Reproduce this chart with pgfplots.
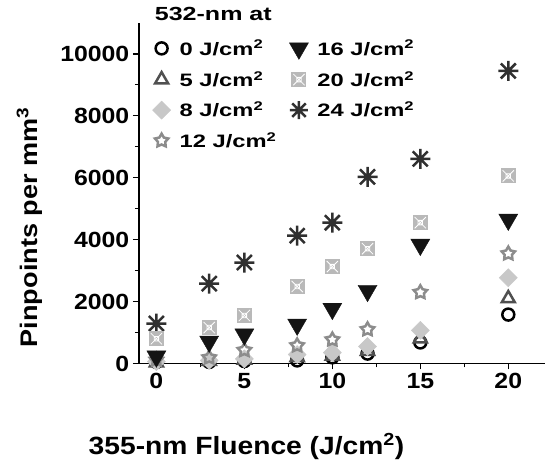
\documentclass[border=0pt]{standalone}
\usepackage{fontspec}
\setmainfont{Liberation Sans}[FakeStretch=1.13]
\newfontfamily\legfont{Liberation Sans}[FakeStretch=1.32]
\usepackage{pgfplots}
\pgfplotsset{compat=1.18}

% 8-armed asterisk
\pgfdeclareplotmark{ast8}{%
  \pgfpathmoveto{\pgfqpoint{-\pgfplotmarksize}{0pt}}\pgfpathlineto{\pgfqpoint{\pgfplotmarksize}{0pt}}%
  \pgfpathmoveto{\pgfqpoint{0pt}{-\pgfplotmarksize}}\pgfpathlineto{\pgfqpoint{0pt}{\pgfplotmarksize}}%
  \pgfpathmoveto{\pgfqpoint{-0.75\pgfplotmarksize}{-0.75\pgfplotmarksize}}\pgfpathlineto{\pgfqpoint{0.75\pgfplotmarksize}{0.75\pgfplotmarksize}}%
  \pgfpathmoveto{\pgfqpoint{-0.75\pgfplotmarksize}{0.75\pgfplotmarksize}}\pgfpathlineto{\pgfqpoint{0.75\pgfplotmarksize}{-0.75\pgfplotmarksize}}%
  \pgfusepathqstroke}
% open five-pointed star
\pgfdeclareplotmark{star5}{%
  \pgfpathmoveto{\pgfpointpolar{90}{\pgfplotmarksize}}%
  \pgfpathlineto{\pgfpointpolar{126}{0.55\pgfplotmarksize}}%
  \pgfpathlineto{\pgfpointpolar{162}{\pgfplotmarksize}}%
  \pgfpathlineto{\pgfpointpolar{198}{0.55\pgfplotmarksize}}%
  \pgfpathlineto{\pgfpointpolar{234}{\pgfplotmarksize}}%
  \pgfpathlineto{\pgfpointpolar{270}{0.55\pgfplotmarksize}}%
  \pgfpathlineto{\pgfpointpolar{306}{\pgfplotmarksize}}%
  \pgfpathlineto{\pgfpointpolar{342}{0.55\pgfplotmarksize}}%
  \pgfpathlineto{\pgfpointpolar{18}{\pgfplotmarksize}}%
  \pgfpathlineto{\pgfpointpolar{54}{0.55\pgfplotmarksize}}%
  \pgfpathclose
  \pgfusepathqstroke}
% filled square with a white cross pattern
\pgfdeclareplotmark{sqx}{%
  \pgfpathrectangle{\pgfqpoint{-\pgfplotmarksize}{-\pgfplotmarksize}}{\pgfqpoint{2\pgfplotmarksize}{2\pgfplotmarksize}}%
  \pgfusepathqfill
  \begin{pgfscope}
  \pgfsetstrokecolor{white}\pgfsetlinewidth{0.8pt}%
  \pgfpathrectangle{\pgfqpoint{-0.3\pgfplotmarksize}{-0.3\pgfplotmarksize}}{\pgfqpoint{0.6\pgfplotmarksize}{0.6\pgfplotmarksize}}%
  \pgfpathmoveto{\pgfqpoint{-0.75\pgfplotmarksize}{-0.75\pgfplotmarksize}}\pgfpathlineto{\pgfqpoint{0.75\pgfplotmarksize}{0.75\pgfplotmarksize}}%
  \pgfpathmoveto{\pgfqpoint{-0.75\pgfplotmarksize}{0.75\pgfplotmarksize}}\pgfpathlineto{\pgfqpoint{0.75\pgfplotmarksize}{-0.75\pgfplotmarksize}}%
  \pgfusepathqstroke
  \end{pgfscope}}

\definecolor{cTriUp}{HTML}{505050}
\definecolor{cDiam}{HTML}{C8C8C8}
\definecolor{cStar}{HTML}{8C8C8C}
\definecolor{cTriDn}{HTML}{141414}
\definecolor{cSq}{HTML}{B9B9B9}
\definecolor{cAst}{HTML}{303030}

\begin{document}
\begin{tikzpicture}
\begin{axis}[
  scale only axis, width=407pt, height=341pt,
  xmin=-1, xmax=22.1, ymin=0, ymax=11000,
  axis lines*=left,
  clip=false,
  xtick={0,5,...,20}, minor xtick={2.5,7.5,12.5,17.5},
  ytick={0,2000,...,10000}, minor ytick={1000,3000,...,9000},
  tick align=outside, major tick length=6pt, minor tick length=4pt,
  tick style={black, line width=1.2pt},
  axis line style={line width=1.5pt},
  ticklabel style={font=\bfseries\fontsize{22}{24}\selectfont},
  /pgf/number format/assume math mode=true,
  /pgf/number format/set thousands separator={},
  scaled y ticks=false,
  xlabel={355-nm Fluence (J/cm\textsuperscript{2})},
  ylabel={Pinpoints per mm\textsuperscript{3}},
  xlabel style={font=\bfseries\fontsize{25}{28}\selectfont, at={(ticklabel cs:0.265)}, yshift=-38pt},
  ylabel style={font=\bfseries\fontsize{24}{27}\selectfont, at={(ticklabel cs:0.40)}, yshift=11pt},
  legend style={draw=none, fill=none, at={(rel axis cs:0.026,0.962)}, anchor=north west,
    font=\legfont\bfseries\fontsize{18}{20}\selectfont, row sep=10pt,
    /tikz/every odd column/.append style={column sep=7pt},
    /tikz/every even column/.append style={column sep=11pt}},
  legend columns=4, transpose legend,
  legend cell align=left,
]
\coordinate (o) at (rel axis cs:0,0);
\addplot[only marks, mark=ast8, mark size=10pt, cAst, line width=2.5pt, forget plot]
  coordinates {(0,1290) (3,2580) (5,3260) (8,4130) (10,4550) (12,6030) (15,6610) (20,9450)};
\addplot[only marks, mark=o, mark size=6pt, black, line width=2.5pt]
  coordinates {(0,50) (3,50) (5,80) (8,100) (10,200) (12,320) (15,680) (20,1580)};
\addlegendentry{0 J/cm\textsuperscript{2}}
\addplot[only marks, mark=triangle, mark size=7.5pt, cTriUp, line width=2.5pt]
  coordinates {(0,30) (3,80) (5,120) (8,200) (10,250) (12,400) (15,800) (20,2100)};
\addlegendentry{5 J/cm\textsuperscript{2}}
\addplot[only marks, mark=square*, mark size=6.4pt, mark options={rotate=45}, cDiam]
  coordinates {(0,60) (3,100) (5,150) (8,290) (10,350) (12,550) (15,1070) (20,2770)};
\addlegendentry{8 J/cm\textsuperscript{2}}
\addplot[only marks, mark=star5, mark size=7pt, cStar, line width=2.5pt]
  coordinates {(0,120) (3,190) (5,430) (8,580) (10,770) (12,1100) (15,2300) (20,3550)};
\addlegendentry{12 J/cm\textsuperscript{2}}
\addplot[only marks, mark=triangle*, mark size=11pt, mark options={rotate=180}, cTriDn]
  coordinates {(0,230) (3,710) (5,940) (8,1260) (10,1770) (12,2350) (15,3840) (20,4650)};
\addlegendentry{16 J/cm\textsuperscript{2}}
\addplot[only marks, mark=sqx, mark size=7.5pt, cSq]
  coordinates {(0,800) (3,1160) (5,1550) (8,2490) (10,3130) (12,3710) (15,4550) (20,6060)};
\addlegendentry{20 J/cm\textsuperscript{2}}
\addlegendimage{only marks, mark=ast8, mark size=9pt, cAst, line width=2.5pt}
\addlegendentry{24 J/cm\textsuperscript{2}}
\node[anchor=west, inner sep=0pt, font=\legfont\bfseries\fontsize{19}{21}\selectfont] at (rel axis cs:0.039,1.026) {532-nm at};
\end{axis}
\path (o) ++(-139pt,-92pt) rectangle ++(546pt,456pt);
\end{tikzpicture}
\end{document}
